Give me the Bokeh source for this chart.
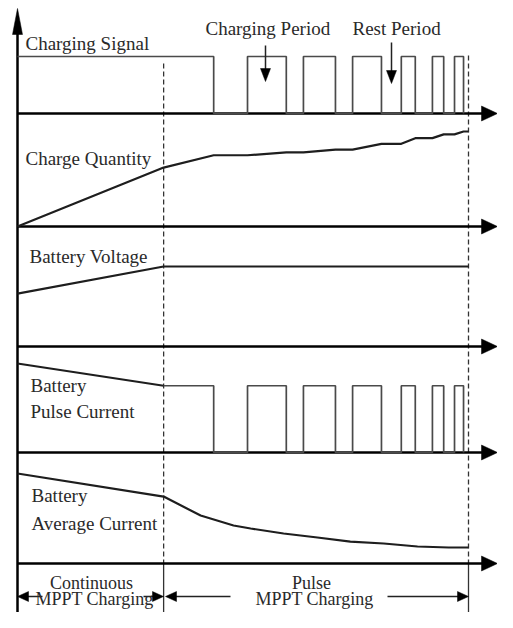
from bokeh.plotting import figure
from bokeh.models import Range1d, ColumnDataSource
from bokeh.embed import file_html
from bokeh.resources import INLINE
from bokeh.core.properties import value

# ---------------- data (time in % of the charging run, levels normalised per trace) -------------
t_switch = 32.4          # continuous MPPT -> pulse MPPT
t_end = 100.0
t_first_off = 43.5
pulse_on = [51.0, 63.4, 74.3, 85.1, 92.0, 96.9]
pulse_off = [59.6, 70.5, 80.7, 88.2, 94.5, 98.9]

signal_level = 1.0

charge_t = [0, 32.4, 43.5, 51.0, 59.6, 63.4, 70.5, 74.3, 80.7, 85.1, 88.2, 92.0, 94.5, 96.9, 98.9, 100]
charge_q = [0, 0.62, 0.75, 0.75, 0.78, 0.78, 0.81, 0.81, 0.87, 0.87, 0.93, 0.93, 0.97, 0.97, 1.0, 1.0]

volt_t = [0, 32.4, 100]
volt_v = [0.66, 1.0, 1.0]

pulse_cur_start = 1.0
pulse_cur_level = 0.75

avg_t = [0, 32.4, 40.6, 47.9, 51.7, 59.0, 66.5, 73.8, 81.2, 88.7, 95.6, 100]
avg_i = [1.0, 0.744, 0.533, 0.422, 0.389, 0.333, 0.289, 0.244, 0.222, 0.189, 0.178, 0.178]

trace_labels = ["Charging Signal", "Charge Quantity", "Battery Voltage",
                "Battery", "Pulse Current", "Battery", "Average Current"]
callout_labels = ["Charging Period", "Rest Period"]
phase_labels = ["Continuous", "MPPT Charging", "Pulse", "MPPT Charging"]

# ---------------- layout (pixels of the figure) ----------------
W, H = 497, 612
AX_X = 17                         # vertical axis position
T_SCALE = 4.51                    # pixels per time unit
panels = {"sig": (113, 57), "q": (226, 95), "v": (346, 80), "ip": (452, 89), "ia": (563, 90)}
FONT = value("Liberation Serif")
TXT = "#2a2a2a"
DY = -7                           # text baseline correction

p = figure(width=W, height=H, output_backend="svg", toolbar_location=None,
           x_range=Range1d(0, W), y_range=Range1d(H, 0),
           x_axis_location=None, y_axis_location=None, min_border=0)
p.outline_line_color = None
p.grid.visible = False
p.background_fill_color = "white"
p.border_fill_color = "white"

p.extra_x_ranges = {"time": Range1d((0 - AX_X) / T_SCALE, (W - AX_X) / T_SCALE)}
ranges = {}
for name, (base, unit) in panels.items():
    ranges[name] = Range1d((base - H) / unit, base / unit)
p.extra_y_ranges = ranges

# ---------------- helpers ----------------
heads_x, heads_y = [], []

def head(tx, ty, dx, dy, length, width):
    bx, by = tx - dx * length, ty - dy * length
    px, py = -dy, dx
    heads_x.append([tx, bx + px * width / 2, bx - px * width / 2])
    heads_y.append([ty, by + py * width / 2, by - py * width / 2])

def pulses(level):
    xs, ys = [], []
    for a, b in zip(pulse_on, pulse_off):
        xs += [a, a, b, b]
        ys += [0, level, level, 0]
    return xs, ys

# ---------------- guide lines ----------------
for t, top in ((t_switch, 63), (t_end, 55)):
    p.segment(x0=[t], y0=[top], x1=[t], y1=[panels["ia"][0]], x_range_name="time",
              line_color="#333333", line_width=1.3, line_dash="5 3")
    p.segment(x0=[t], y0=[panels["ia"][0]], x1=[t], y1=[612], x_range_name="time",
              line_color="#333333", line_width=1.3)

# vertical axis
p.segment(x0=[AX_X], y0=[30], x1=[AX_X], y1=[612], line_color="black", line_width=2.5)
head(AX_X, 8, 0, -1, 26, 10)
# horizontal axes
for name, (base, unit) in panels.items():
    p.segment(x0=[AX_X], y0=[base], x1=[485], y1=[base], line_color="black", line_width=2.6)
    head(497, base, 1, 0, 16, 15)

# ---------------- traces ----------------
wave_col, wave_w = "#4a4a4a", 1.7
curve_col, curve_w = "#1e1e1e", 2.2

sx, sy = pulses(signal_level)
p.line([0, t_first_off, t_first_off] + sx, [signal_level, signal_level, 0] + sy,
       x_range_name="time", y_range_name="sig", line_color=wave_col, line_width=wave_w)

p.line(charge_t, charge_q, x_range_name="time", y_range_name="q",
       line_color=curve_col, line_width=curve_w)

p.line(volt_t, volt_v, x_range_name="time", y_range_name="v",
       line_color=curve_col, line_width=curve_w)

px_, py_ = pulses(pulse_cur_level)
p.line([0, t_switch], [pulse_cur_start, pulse_cur_level], x_range_name="time", y_range_name="ip",
       line_color=curve_col, line_width=2.0)
p.line([t_switch, t_first_off, t_first_off] + px_, [pulse_cur_level, pulse_cur_level, 0] + py_,
       x_range_name="time", y_range_name="ip", line_color=wave_col, line_width=wave_w)

p.line(avg_t, avg_i, x_range_name="time", y_range_name="ia",
       line_color=curve_col, line_width=curve_w)

# ---------------- callout & phase arrows ----------------
p.segment(x0=[265, 391], y0=[45, 42], x1=[265, 391], y1=[70, 72], line_color="#222222", line_width=1.5)
head(265, 81, 0, 1, 13, 10)
head(391, 83, 0, 1, 13, 10)

AY = 596
p.segment(x0=[27, 143, 175, 387], y0=[AY] * 4, x1=[42, 154, 230, 458], y1=[AY] * 4,
          line_color="#222222", line_width=1.5)
head(17, AY, -1, 0, 11, 10)
head(163, AY, 1, 0, 11, 10)
head(165, AY, -1, 0, 11, 10)
head(468, AY, 1, 0, 11, 10)

p.patches(heads_x, heads_y, fill_color="black", line_color="black", line_width=0.5)

# ---------------- texts ----------------
lab = ColumnDataSource(dict(
    x=[25, 25, 29, 30, 30, 31, 31],
    y=[50 + DY, 165 + DY, 263 + DY, 392 + DY, 418 + DY, 502 + DY, 530 + DY],
    text=trace_labels))
p.text(x="x", y="y", text="text", source=lab, text_font=FONT, text_font_size="19px",
       text_color=TXT, text_baseline="alphabetic", text_align="left")

call = ColumnDataSource(dict(x=[205, 352], y=[35 + DY, 35 + DY], text=callout_labels))
p.text(x="x", y="y", text="text", source=call, text_font=FONT, text_font_size="19px",
       text_color=TXT, text_baseline="alphabetic", text_align="left")

ph = ColumnDataSource(dict(x=[91, 94, 311, 314], y=[589 + DY, 605 + DY, 589 + DY, 605 + DY],
                           text=phase_labels))
p.text(x="x", y="y", text="text", source=ph, text_font=FONT, text_font_size="18px",
       text_color=TXT, text_baseline="alphabetic", text_align="center")

open("out.html", "w").write(file_html(p, INLINE))
